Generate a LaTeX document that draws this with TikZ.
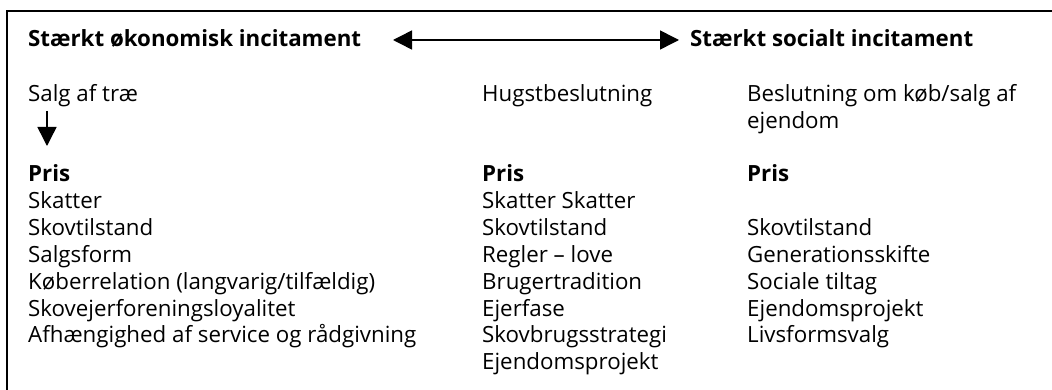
\documentclass[tikz,border=0pt]{standalone}
\usepackage{fontspec}
\setmainfont{Open Sans}
\usetikzlibrary{arrows.meta}
\tikzset{
  txt/.style={anchor=base west, inner sep=0pt, font=\fontsize{22.3}{27}\selectfont},
  hdr/.style={txt, font=\fontsize{22.3}{27}\selectfont\bfseries},
  frame/.style={line width=1.8pt, line cap=rect},
  bigarrow/.style={line width=1.5pt, -{Triangle[length=19pt,width=19pt]}},
  dblarrow/.style={line width=1.5pt, {Triangle[length=19pt,width=19pt]}-{Triangle[length=19pt,width=19pt]}}
}
\begin{document}
\begin{tikzpicture}[x=1pt,y=-1pt]
\useasboundingbox (0,0) rectangle (1052,390);
% frame
\coordinate (f1) at (7,390);
\coordinate (f2) at (7,11);
\coordinate (f3) at (1053,11);
\draw[frame] (f1) -- (f2) -- (f3);
% headings
\node[hdr] (econ) at (28,47) {Stærkt økonomisk incitament};
\node[hdr] (soc) at (690,47) {Stærkt socialt incitament};
\coordinate (aL) at (393,40);
\coordinate (aR) at (679,40);
\draw[dblarrow] (aL) -- (aR);
% decisions
\node[txt] (d1) at (28,102) {Salg af træ};
\node[txt] (d2) at (482,102) {Hugstbeslutning};
\node[txt] (d3) at (747,102) {Beslutning om køb/salg af};
\node[txt] (d3b) at (747,129) {ejendom};
\coordinate (dA) at (47,111);
\coordinate (dB) at (47,146);
\draw[bigarrow] (dA) -- (dB);
% column 1
\node[hdr] (p1) at (28,182) {Pris};
\foreach \t [count=\i] in {Skatter,Skovtilstand,Salgsform,Køberrelation (langvarig/tilfældig),Skovejerforeningsloyalitet,Afhængighed af service og rådgivning}
  \node[txt] (c1-\i) at (28,182+26.8*\i) {\t};
% column 2
\node[hdr] (p2) at (482,182) {Pris};
\foreach \t [count=\i] in {Skatter Skatter,Skovtilstand,Regler – love,Brugertradition,Ejerfase,Skovbrugsstrategi,Ejendomsprojekt}
  \node[txt] (c2-\i) at (482,182+26.8*\i) {\t};
% column 3
\node[hdr] (p3) at (747,182) {Pris};
\foreach \t [count=\i from 2] in {Skovtilstand,Generationsskifte,Sociale tiltag,Ejendomsprojekt,Livsformsvalg}
  \node[txt] (c3-\i) at (747,182+26.8*\i) {\t};
\end{tikzpicture}
\end{document}
